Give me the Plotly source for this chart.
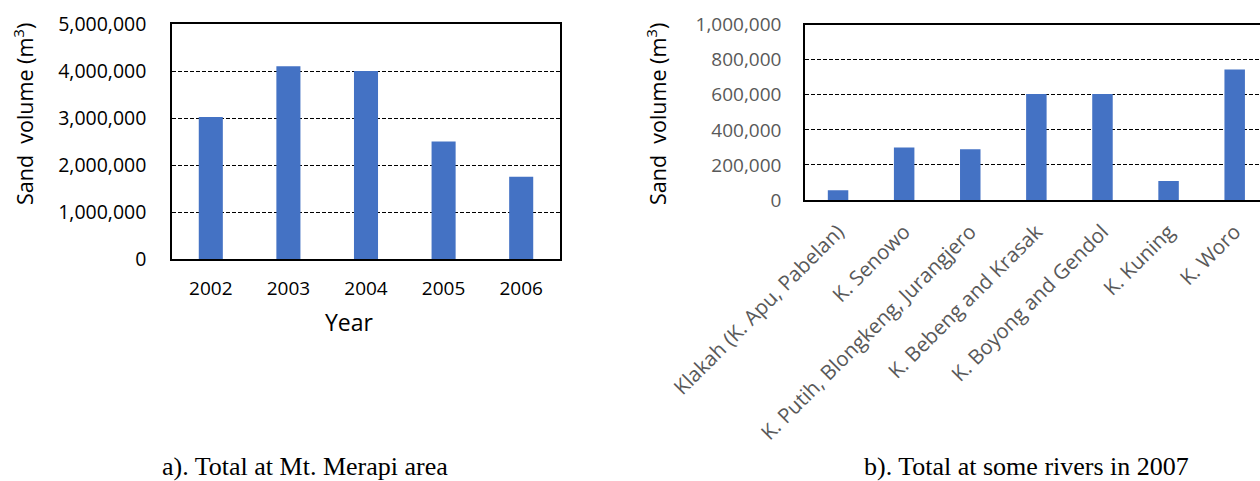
import plotly.graph_objects as go

# Data
years = ["2002", "2003", "2004", "2005", "2006"]
total_volume = [3020000, 4100000, 4000000, 2500000, 1750000]

rivers = ["Klakah (K. Apu, Pabelan)", "K. Senowo", "K. Putih, Blongkeng, Jurangjero",
          "K. Bebeng and Krasak", "K. Boyong and Gendol", "K. Kuning", "K. Woro"]
river_volume = [55000, 300000, 290000, 605000, 605000, 108000, 745000]

y_title = "Sand\u00a0 volume (m<sup>3</sup>)"
caption_a = "a). Total at Mt. Merapi area"
caption_b = "b). Total at some rivers in 2007"

W, H = 1260, 481
BAR = "#4472C4"
FONT = "Open Sans"

fig = go.Figure()
fig.add_trace(go.Bar(x=years, y=total_volume, marker=dict(color=BAR, line=dict(width=0)),
                     xaxis="x", yaxis="y", showlegend=False))
fig.add_trace(go.Bar(x=rivers, y=river_volume, marker=dict(color=BAR, line=dict(width=0)),
                     xaxis="x2", yaxis="y2", showlegend=False))

def px_x(v):
    return v / W

def px_y(v):
    return 1 - v / H

fig.update_layout(
    width=W, height=H,
    margin=dict(l=0, r=0, t=0, b=0, autoexpand=False),
    paper_bgcolor="white", plot_bgcolor="white",
    bargap=0.69,
    font=dict(family=FONT, size=18, color="#000000"),
    xaxis=dict(domain=[px_x(172), px_x(560)], anchor="y", type="category", range=[-0.5, 4.5],
               showline=True, mirror=True, linecolor="black", linewidth=1.5, automargin=False,
               showgrid=False, ticks="", ticklabelstandoff=11,
               tickfont=dict(family=FONT, size=19, color="#000000")),
    yaxis=dict(domain=[px_y(259), px_y(24)], anchor="x", range=[0, 5000000], dtick=1000000,
               tickformat=",", showline=True, mirror=True, linecolor="black", linewidth=1.5,
               showgrid=True, gridcolor="black", gridwidth=1, griddash="4px,2px",
               zeroline=False, ticks="", ticklabelstandoff=20, automargin=False,
               tickfont=dict(family=FONT, size=19.5, color="#000000")),
    xaxis2=dict(domain=[px_x(805), 1.0], anchor="y2", type="category", range=[-0.5, 6.383],
                showline=True, mirror=True, linecolor="black", linewidth=1.5, automargin=False,
                showgrid=False, ticks="", tickangle=-45, ticklabelstandoff=10,
                tickfont=dict(family=FONT, size=20.5, color="#595959")),
    yaxis2=dict(domain=[px_y(200), px_y(24.7)], anchor="x2", range=[0, 1000000], dtick=200000,
                tickformat=",", showline=True, mirror=False, linecolor="black", linewidth=1.5,
                showgrid=True, gridcolor="black", gridwidth=1, griddash="4px,2px",
                zeroline=False, ticks="", ticklabelstandoff=18, automargin=False,
                tickfont=dict(family=FONT, size=19, color="#595959")),
)

annotations = [
    dict(text=y_title, x=px_x(23), y=px_y(114), textangle=-90,
         font=dict(family=FONT, size=21.5, color="#000000")),
    dict(text=y_title, x=px_x(656), y=px_y(114), textangle=-90,
         font=dict(family=FONT, size=21.5, color="#000000")),
    dict(text="Year", x=px_x(349), y=px_y(322),
         font=dict(family=FONT, size=23, color="#000000")),
    dict(text=caption_a, x=px_x(305), y=px_y(466),
         font=dict(family="Liberation Serif", size=26, color="#000000")),
    dict(text=caption_b, x=px_x(1026), y=px_y(466),
         font=dict(family="Liberation Serif", size=26, color="#000000")),
]
for a in annotations:
    a.update(xref="paper", yref="paper", showarrow=False, xanchor="center", yanchor="middle")
fig.update_layout(annotations=annotations)

fig.write_html("out.html", config={"displayModeBar": False},
               post_script="document.body.style.margin='0';document.body.style.overflow='hidden';")
